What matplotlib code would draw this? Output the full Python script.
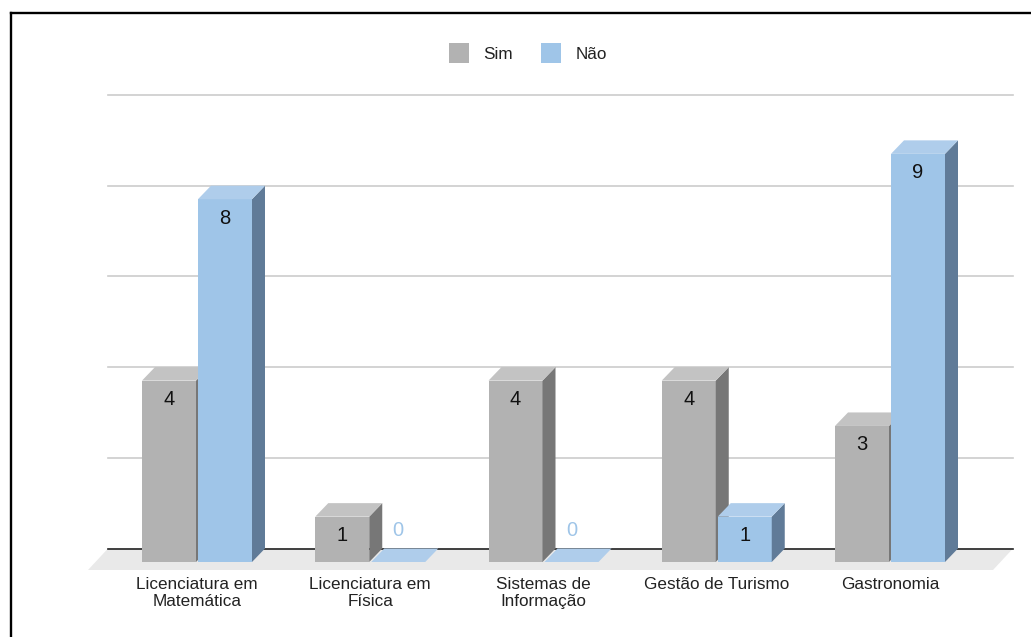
import matplotlib
matplotlib.use('Agg')
import matplotlib.pyplot as plt
from matplotlib.lines import Line2D
from matplotlib.patches import Polygon, Patch

plt.rcParams['font.family'] = ['Liberation Sans', 'DejaVu Sans']

courses = ['Licenciatura em\nMatemática', 'Licenciatura em\nFísica', 'Sistemas de\nInformação',
           'Gestão de Turismo', 'Gastronomia']
sim = [4, 1, 4, 4, 3]
nao = [8, 0, 0, 1, 9]
grid_values = [2, 4, 6, 8, 10]

W, H = 1031, 637
PX_X = 173.25    # pixels per category
PX_Y = 45.35     # pixels per unit of value
DEPTH_X = 13 / PX_X
DEPTH_Y = 13.5 / PX_Y
BAR_W = 54 / PX_X
OFFSET = 28 / PX_X

GRAY = dict(front='#b2b2b2', top='#c3c3c3', side='#777777')
BLUE = dict(front='#9fc5e8', top='#afcdeb', side='#607b98')

fig = plt.figure(figsize=(W / 100, H / 100), dpi=100, facecolor='white')
ax = fig.add_axes([108 / W, (H - 562) / H, 905 / W, 10 * PX_Y / H])
ax.set_xlim((108 - 197) / PX_X, (1013 - 197) / PX_X)
ax.set_ylim(0, 10)
for spine in ax.spines.values():
    spine.set_visible(False)
ax.set_yticks([])
ax.set_xticks(range(len(courses)))
ax.set_xticklabels(courses, fontsize=12.3, color='#222222', linespacing=1.13)
ax.tick_params(axis='x', length=0, pad=11)


def draw_bar(x, value, colors):
    left, right = x - BAR_W / 2, x + BAR_W / 2
    ax.bar(x, value, width=BAR_W, color=colors['front'], linewidth=0, zorder=4, clip_on=False)
    if value > 0:
        ax.add_patch(Polygon([(right, 0), (right + DEPTH_X, DEPTH_Y), (right + DEPTH_X, value + DEPTH_Y),
                              (right, value)], closed=True, facecolor=colors['side'], linewidth=0,
                             zorder=4, clip_on=False))
    ax.add_patch(Polygon([(left, value), (right, value), (right + DEPTH_X, value + DEPTH_Y),
                          (left + DEPTH_X, value + DEPTH_Y)], closed=True, facecolor=colors['top'],
                         linewidth=0, zorder=4, clip_on=False))
    # zero bars carry their label above the slab, in the series colour
    if value > 0:
        ax.annotate(str(value), (x, value), xytext=(0, -19), textcoords='offset pixels', ha='center',
                    va='center', fontsize=14.5, color='#111111', zorder=6)
    else:
        ax.annotate(str(value), (x, 0), xytext=(0, 31), textcoords='offset pixels', ha='center',
                    va='center', fontsize=14.5, color=colors['front'], zorder=6)


# floor under the bars
x0, x1 = ax.get_xlim()
low = -8 / PX_Y
ax.add_patch(Polygon([(x0 - 20 / PX_X, low), (x1 - 20 / PX_X, low), (x1, DEPTH_Y), (x0, DEPTH_Y)], closed=True,
                     facecolor='#e9e9e9', linewidth=0, zorder=1, clip_on=False))

# gridlines sit on the back wall
for v in grid_values:
    ax.plot([x0, x1], [v + DEPTH_Y, v + DEPTH_Y], color='#cccccc', linewidth=1.2, zorder=2, clip_on=False)
ax.plot([x0, x1], [DEPTH_Y, DEPTH_Y], color='#222222', linewidth=1.2, zorder=2, clip_on=False)

for i in range(len(courses)):
    draw_bar(i - OFFSET, sim[i], GRAY)
    draw_bar(i + OFFSET, nao[i], BLUE)

handles = [Patch(facecolor=GRAY['front'], label='Sim'), Patch(facecolor=BLUE['front'], label='Não')]
fig.legend(handles=handles, ncol=2, loc='center', bbox_to_anchor=(528 / W, 1 - 53 / H), frameon=False,
           fontsize=12.3, handlelength=1.17, handleheight=1.5, handletextpad=0.82, columnspacing=1.64,
           labelcolor='#222222')

# black frame along the top and left edges
fig.add_artist(Line2D([10.5 / W, 1], [1 - 13 / H, 1 - 13 / H], color='black', linewidth=1.7))
fig.add_artist(Line2D([10.5 / W, 10.5 / W], [0, 1 - 13 / H], color='black', linewidth=1.7))

fig.savefig('out.png', dpi=100)
